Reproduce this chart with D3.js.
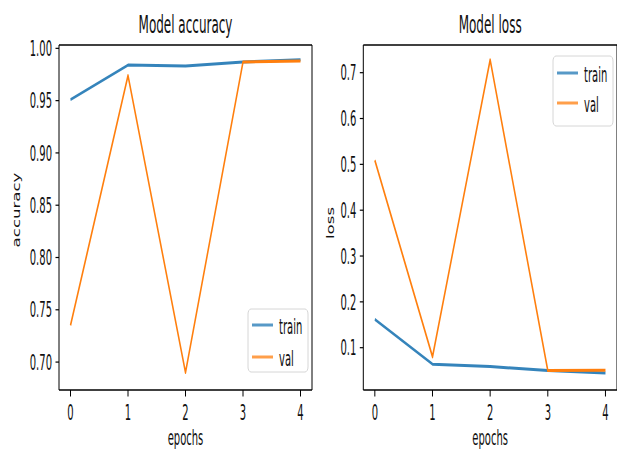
<!DOCTYPE html>
<html>
<head>
<meta charset="utf-8">
<script src="https://cdn.jsdelivr.net/npm/d3@7"></script>
<style>
html,body{margin:0;padding:0;background:#fff;}
svg{display:block;}
text{font-family:"DejaVu Sans",sans-serif;fill:#111;}
</style>
</head>
<body>
<svg id="chart" width="617" height="450"></svg>
<script>
// ---- data ----
const epochs = [0, 1, 2, 3, 4];
const xTicks = [0, 1, 2, 3, 4];
const trainAcc = [0.951, 0.984, 0.983, 0.987, 0.989];
const valAcc = [0.735, 0.974, 0.690, 0.987, 0.988];
const trainLoss = [0.162, 0.064, 0.059, 0.050, 0.045];
const valLoss = [0.509, 0.080, 0.728, 0.050, 0.051];
const accTicks = [0.70, 0.75, 0.80, 0.85, 0.90, 0.95, 1.00];
const lossTicks = [0.1, 0.2, 0.3, 0.4, 0.5, 0.6, 0.7];
const seriesNames = ["train", "val"];
const colors = ["#1f77b4", "#ff7f0e"];

// ---- layout ----
const W = 617, H = 450;
const SY = 2;          // vertical stretch of the picture
const TSY = 2.1;       // vertical stretch of the texts
const axTop = 45, axBottom = 390;

const panels = [
  {title: "Model accuracy", ylabel: "accuracy", left: 59, right: 312,
   yDomain: [0.6733, 1.0032], ticks: accTicks, fmt: d3.format(".2f"),
   series: [trainAcc, valAcc],
   legend: {x: 248, y: 309, w: 60, h: 63, l1: 16, l2: 48},
   ylab: {x: 20, y: 210}},
  {title: "Model loss", ylabel: "loss", left: 363.3, right: 617,
   yDomain: [0.0077, 0.7604], ticks: lossTicks, fmt: d3.format(".1f"),
   series: [trainLoss, valLoss],
   legend: {x: 553, y: 56, w: 60, h: 70, l1: 17, l2: 47},
   ylab: {x: 334, y: 223}}
];

const svg = d3.select("#chart");

function htext(g, x, y, str, size, anchor) {
  return g.append("text")
    .attr("transform", `translate(${x},${y}) scale(1,${TSY})`)
    .attr("text-anchor", anchor)
    .attr("font-size", size)
    .text(str);
}

panels.forEach(p => {
  const g = svg.append("g");
  const x = d3.scaleLinear().domain([-0.2, 4.2]).range([p.left, p.right]);
  const y = d3.scaleLinear().domain(p.yDomain).range([axBottom, axTop]);
  const yS = d3.scaleLinear().domain(p.yDomain).range([axBottom / SY, axTop / SY]);

  // lines (drawn in a vertically stretched group, like the picture)
  const lg = g.append("g").attr("transform", `scale(1,${SY})`);
  p.series.forEach((vals, i) => {
    const line = d3.line().x((d, j) => x(epochs[j])).y(d => yS(d));
    lg.append("path").datum(vals)
      .attr("d", line)
      .attr("fill", "none")
      .attr("stroke", colors[i])
      .attr("stroke-width", 1.5)
      .attr("stroke-opacity", i === 0 ? 0.9 : 1)
      .attr("stroke-linejoin", "round")
      .attr("stroke-linecap", "butt");
  });

  // spines
  g.append("line").attr("x1", p.left).attr("x2", p.right).attr("y1", axTop).attr("y2", axTop)
    .attr("stroke", "#000").attr("stroke-width", 1.6);
  g.append("line").attr("x1", p.left).attr("x2", p.right).attr("y1", axBottom).attr("y2", axBottom)
    .attr("stroke", "#000").attr("stroke-width", 1.6);
  g.append("line").attr("x1", p.left).attr("x2", p.left).attr("y1", axTop).attr("y2", axBottom)
    .attr("stroke", "#000").attr("stroke-width", 1);
  g.append("line").attr("x1", p.right).attr("x2", p.right).attr("y1", axTop).attr("y2", axBottom)
    .attr("stroke", "#000").attr("stroke-width", 1);

  // y ticks
  p.ticks.forEach(t => {
    g.append("line").attr("x1", p.left - 3.5).attr("x2", p.left)
      .attr("y1", y(t)).attr("y2", y(t)).attr("stroke", "#000").attr("stroke-width", 1.2);
    htext(g, p.left - 7, y(t) + 3.65 * TSY, p.fmt(t), 10, "end");
  });
  // x ticks
  xTicks.forEach(t => {
    g.append("line").attr("x1", x(t)).attr("x2", x(t))
      .attr("y1", axBottom).attr("y2", axBottom + 6.5).attr("stroke", "#000").attr("stroke-width", 1);
    htext(g, x(t), 420, String(t), 10, "middle");
  });

  // title and axis labels
  htext(g, (p.left + p.right) / 2, 33, p.title, 12, "middle");
  htext(g, (p.left + p.right) / 2, 444.5, "epochs", 10, "middle");
  g.append("text")
    .attr("transform", `translate(${p.ylab.x},${p.ylab.y}) scale(1,1.66) rotate(-90)`)
    .attr("text-anchor", "middle")
    .attr("font-size", 10)
    .text(p.ylabel);

  // legend
  const L = p.legend;
  g.append("rect").attr("x", L.x).attr("y", L.y).attr("width", L.w).attr("height", L.h)
    .attr("rx", 3).attr("ry", 5)
    .attr("fill", "#fff").attr("fill-opacity", 0.85)
    .attr("stroke", "#d6d6d6").attr("stroke-width", 1);
  [L.l1, L.l2].forEach((off, i) => {
    const ly = L.y + off;
    g.append("line").attr("x1", L.x + 4).attr("x2", L.x + 25).attr("y1", ly).attr("y2", ly)
      .attr("stroke", colors[i]).attr("stroke-width", 3).attr("stroke-opacity", 0.75);
    htext(g, L.x + 31, ly + 8.5, seriesNames[i], 10, "start");
  });
});
</script>
</body>
</html>
